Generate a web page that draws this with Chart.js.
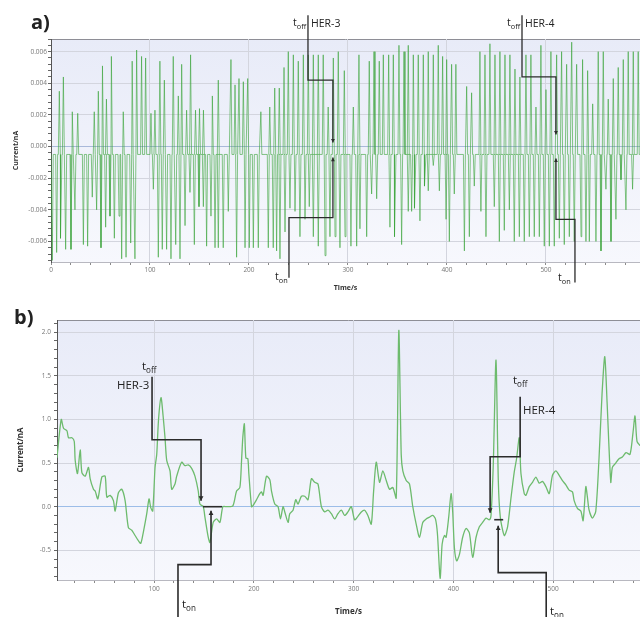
<!DOCTYPE html>
<html>
<head>
<meta charset="utf-8">
<script src="https://cdn.jsdelivr.net/npm/chart.js@4.4.0/dist/chart.umd.min.js"></script>
<style>
  body { margin: 0; background: #fff; }
  #wrap { position: relative; width: 640px; height: 617px; overflow: hidden; font-family: 'Open Sans', sans-serif; }
  canvas { position: absolute; left: 0; }
  .lbl { position: absolute; color: #222; line-height: 16px; white-space: nowrap; }
  .lbl sub { font-size: 0.7em; vertical-align: -3px; line-height: 0; }
  .la { font-size: 10.5px; }
  .lb { font-size: 11.5px; }
  .panel { position: absolute; font-weight: bold; font-size: 20px; color: #222; line-height: 22px; }
</style>
</head>
<body>
<div id="wrap">
  <canvas id="chartA" width="640" height="300" style="top:0"></canvas>
  <canvas id="chartB" width="640" height="317" style="top:300px"></canvas>

  <div class="panel" style="left:31px;top:11px">a)</div>
  <div class="panel" style="left:14px;top:306px">b)</div>

  <div class="lbl la" style="left:293px;top:14px">t<sub>off</sub></div>
  <div class="lbl la" style="left:311px;top:15px">HER-3</div>
  <div class="lbl la" style="left:507px;top:14px">t<sub>off</sub></div>
  <div class="lbl la" style="left:525px;top:15px">HER-4</div>
  <div class="lbl la" style="left:275px;top:268px">t<sub>on</sub></div>
  <div class="lbl la" style="left:558px;top:269px">t<sub>on</sub></div>

  <div class="lbl lb" style="left:142px;top:358px">t<sub>off</sub></div>
  <div class="lbl lb" style="left:117px;top:377px">HER-3</div>
  <div class="lbl lb" style="left:182px;top:596px">t<sub>on</sub></div>
  <div class="lbl lb" style="left:513px;top:372px">t<sub>off</sub></div>
  <div class="lbl lb" style="left:523px;top:402px">HER-4</div>
  <div class="lbl lb" style="left:550px;top:603px">t<sub>on</sub></div>
</div>

<script>
// ---- panel a : current spikes (time in s, current in nA) ----
const aUpTimes = [8.4, 12.5, 21.5, 27, 43.7, 47.8, 52, 56, 61, 73, 82, 86.5, 91.5, 95.6, 101, 105, 110, 114.5,
  123.5, 128.6, 132, 137, 141, 146, 150, 154, 163, 169, 181.8, 185.9, 189.9, 194.3, 198.7, 212, 221, 226,
  230.6, 235.4, 239.7, 244.8, 249.8, 254.9, 259.9, 265, 270, 275, 280, 285.2, 290.2, 296.3, 305.4, 311.1,
  321.5, 326.3, 331.6, 335.7, 341.1, 345.8, 351.5, 356.6, 360.9, 366, 371, 376.1, 381.1, 386.2, 391.2,
  395.6, 399.7, 404.7, 409, 419.9, 424.9, 433.3, 438.4, 443.4, 448.5, 453.5, 458.6, 463.6, 468.7, 473.7,
  479.8, 484.8, 489.9, 494.9, 500, 505, 510.8, 515.8, 520.9, 526, 531, 537, 542.1, 547.2, 552.8, 557.9,
  562.9, 568, 573, 578.1, 583.1, 588.2, 593.2];
const aUpValues = [0.0035, 0.0044, 0.0022, 0.0021, 0.0022, 0.0035, 0.0051, 0.003, 0.0057, 0.0022, 0.0054, 0.0061,
  0.0057, 0.0056, 0.0021, 0.0023, 0.0054, 0.0042, 0.0057, 0.0032, 0.0052, 0.0023, 0.0058, 0.0023, 0.0024,
  0.0023, 0.0032, 0.0042, 0.0055, 0.0039, 0.0043, 0.0041, 0.0043, 0.0022, 0.0025, 0.0037, 0.0037, 0.005,
  0.006, 0.0058, 0.0054, 0.0058, 0.0058, 0.0058, 0.0058, 0.0058, 0.0025, 0.0056, 0.006, 0.0048, 0.0025,
  0.0058, 0.0054, 0.006, 0.0054, 0.0058, 0.0058, 0.0058, 0.0064, 0.006, 0.0064, 0.0058, 0.0058, 0.0058,
  0.006, 0.0058, 0.0064, 0.0057, 0.0055, 0.0052, 0.0052, 0.0038, 0.0034, 0.006, 0.0058, 0.0065, 0.0058,
  0.006, 0.0058, 0.0058, 0.0049, 0.0044, 0.0058, 0.0058, 0.0025, 0.0064, 0.0036, 0.006, 0.0058, 0.006,
  0.0052, 0.0066, 0.0052, 0.0055, 0.0048, 0.0027, 0.006, 0.006, 0.003, 0.0043, 0.005, 0.0055, 0.006,
  0.006, 0.006];
const aDownTimes = [1.3, 5.7, 10.1, 14.8, 20.2, 24.2, 32.7, 37, 41.7, 46.1, 50.5, 55.2, 59.6, 64, 68.7, 71.4,
  75.8, 80.5, 84.8, 103.4, 108.4, 112.4, 116.8, 121.2, 126, 130.3, 135.4, 140.4, 144.8, 149.5, 153.9, 157.2,
  161.6, 165.7, 169, 174, 179.1, 187.5, 196, 200.3, 204.4, 209.4, 219.5, 224.5, 227.9, 231.3, 236.4, 241.4,
  246.5, 251.5, 256.6, 260.9, 265, 270, 276.8, 281.8, 286.9, 291.9, 297, 303, 308.8, 312.1, 318.9, 323.9,
  329, 342.4, 347.5, 354.2, 360.9, 364.3, 367.7, 372.7, 377.8, 381.1, 386.2, 392.3, 399.1, 402.4, 407.4,
  417.6, 422.6, 427.6, 434.3, 439.4, 447.8, 452.9, 457.9, 463, 468, 473.1, 478.1, 483.2, 488.2, 493.3,
  498.3, 503.4, 508.4, 513.5, 518.5, 523.6, 528.6, 535.4, 540.4, 543.8, 550.5, 555.6, 560.6, 565.7, 570.7,
  575.8, 580.8, 587.5];
const aDownValues = [-0.0072, -0.0067, -0.0058, -0.0065, -0.0065, -0.004, -0.0062, -0.0063, -0.0032, -0.004,
  -0.0064, -0.0051, -0.0044, -0.0058, -0.0044, -0.0071, -0.007, -0.0061, -0.0071, -0.0027, -0.007, -0.0065,
  -0.0065, -0.0071, -0.0062, -0.0071, -0.005, -0.0029, -0.0062, -0.0038, -0.0038, -0.0063, -0.0044, -0.0064,
  -0.0064, -0.0064, -0.0041, -0.007, -0.0064, -0.0064, -0.0064, -0.0064, -0.0064, -0.0064, -0.0066, -0.0071,
  -0.0054, -0.0039, -0.0041, -0.0057, -0.0046, -0.0038, -0.0057, -0.0063, -0.0069, -0.0057, -0.0057, -0.0064,
  -0.0057, -0.0063, -0.0063, -0.0052, -0.0057, -0.003, -0.0033, -0.0051, -0.0057, -0.0062, -0.0041, -0.0041,
  -0.0039, -0.0047, -0.0025, -0.0028, -0.0012, -0.0028, -0.0046, -0.006, -0.003, -0.0066, -0.0057, -0.0025,
  -0.0041, -0.0057, -0.0038, -0.006, -0.0053, -0.004, -0.006, -0.0057, -0.006, -0.0057, -0.0057, -0.0057,
  -0.0063, -0.0063, -0.0063, -0.0058, -0.0062, -0.0057, -0.006, -0.0057, -0.006, -0.006, -0.006, -0.0066,
  -0.0027, -0.006, -0.0046, -0.0021, -0.004, -0.0027];
const aBaseline = -0.0005;

// ---- panel b : current trace ----
const bTimes = [2.7, 7, 9.3, 12.7, 14.3, 17.7, 20, 21, 23.3, 26, 27.7, 31, 34.3, 36, 39.3, 41, 43.7, 47.7, 51,
  52.7, 56, 59.3, 61, 64.3, 67.7, 71, 74.3, 77.7, 81, 84.3, 86.7, 89.3, 92.7, 95, 96.7, 98.7, 101, 102.7,
  104.5, 107, 109, 111, 112.7, 116, 117.7, 121, 122.7, 127.7, 131, 134.3, 137.7, 141, 144.3, 146, 149.3,
  151, 154.3, 156, 159.3, 162.7, 166, 169, 173, 179, 182.7, 186, 187.7, 189, 190.5, 192, 194, 195, 197.7,
  199, 202.7, 206, 207.7, 209.3, 212.7, 216, 217.7, 221, 224.3, 226.7, 229.3, 231, 234.3, 236, 239.3, 242,
  244.3, 247.7, 251, 254.3, 257.7, 261, 264.3, 267.7, 271, 274.3, 277.7, 281, 284.3, 287.7, 291, 294.3,
  297.7, 301, 304.3, 307.7, 311, 314.3, 317.7, 320, 322.7, 326, 329.3, 332.7, 336, 339.3, 342.7, 345.3,
  347.7, 349.3, 352.7, 356, 359.3, 362.7, 366, 369.3, 372.7, 376, 379.3, 382, 384, 386.7, 388.7, 391,
  392.7, 395.3, 397.7, 399.3, 401, 403.3, 406, 409.3, 412.7, 416, 419.3, 422.7, 426, 429.3, 432.7, 436,
  437.7, 440, 442.7, 445, 447, 451, 454.3, 457.7, 461, 463.3, 466, 467.7, 471, 472.7, 476, 479.3, 482.7,
  486, 489.3, 492.7, 496, 499.3, 502.7, 506, 509.3, 512.7, 516, 519.3, 521, 524.3, 527.7, 530, 532.7,
  534.3, 536, 539.3, 542.7, 546, 549, 551.7, 554, 557.7, 559.3, 562.7, 566, 569.3, 573, 577, 580, 582,
  584, 587];
const bValues = [0.56, 1.0, 0.9, 0.87, 0.79, 0.79, 0.75, 0.53, 0.38, 0.65, 0.39, 0.35, 0.45, 0.32, 0.2, 0.18,
  0.09, 0.34, 0.35, 0.11, 0.13, 0.07, -0.05, 0.16, 0.2, 0.07, -0.24, -0.27, -0.33, -0.39, -0.42, -0.29,
  -0.08, 0.09, -0.01, -0.05, 0.45, 0.6, 1.0, 1.25, 1.05, 0.79, 0.53, 0.41, 0.2, 0.26, 0.35, 0.51, 0.47,
  0.48, 0.44, 0.35, 0.18, 0.03, 0.0, -0.12, -0.35, -0.41, -0.18, -0.14, -0.18, 0.0, 0.0, 0.01, 0.18, 0.22,
  0.53, 0.8, 0.95, 0.56, 0.55, 0.38, 0.0, 0.01, 0.08, 0.15, 0.17, 0.13, 0.35, 0.31, 0.18, 0.03, 0.0, -0.14,
  0.0, -0.06, -0.18, -0.08, -0.04, 0.08, 0.03, 0.12, 0.12, 0.08, 0.32, 0.28, 0.26, 0.0, -0.06, -0.04,
  -0.08, -0.14, -0.08, -0.04, -0.1, -0.06, 0.0, -0.15, -0.11, -0.06, -0.04, -0.1, -0.2, 0.17, 0.51, 0.28,
  0.41, 0.3, 0.2, 0.22, 0.1, 2.02, 0.6, 0.41, 0.3, 0.26, 0.0, -0.2, -0.35, -0.18, -0.14, -0.12, -0.1,
  -0.14, -0.31, -0.82, -0.43, -0.33, -0.35, -0.12, 0.15, -0.06, -0.47, -0.62, -0.55, -0.35, -0.25, -0.3,
  -0.58, -0.35, -0.23, -0.18, -0.13, -0.15, -0.1, 0.5, 1.68, 0.3, -0.12, -0.33, -0.23, 0.1, 0.4, 0.55,
  0.79, 0.38, 0.15, 0.13, 0.23, 0.28, 0.34, 0.27, 0.29, 0.23, 0.15, 0.36, 0.41, 0.36, 0.3, 0.25, 0.19,
  0.17, 0.07, -0.02, -0.05, -0.16, 0.23, 0.11, -0.04, -0.13, -0.05, 0.57, 1.3, 1.72, 1.2, 0.28, 0.45, 0.5,
  0.55, 0.57, 0.62, 0.6, 0.85, 1.04, 0.75, 0.7];

// ---- switching marks (time, current) ----
const aHer3Off = [[259.6, 0.0083], [259.6, 0.0042], [284.8, 0.0042], [284.8, 0.00025]];
const aHer3On = [[240.4, -0.0083], [240.4, -0.0045], [284.8, -0.0045], [284.8, -0.0007]];
const aHer4Off = [[475.8, 0.0083], [475.8, 0.0044], [510.1, 0.0044], [510.1, 0.00076]];
const aHer4On = [[529.3, -0.0086], [529.3, -0.0046], [510.1, -0.0046], [510.1, -0.00076]];
const bHer3Off = [[98, 1.49], [98, 0.767], [147.1, 0.767], [147.1, 0.069]];
const bHer3Mid = [[149.1, 0], [168.2, 0]];
const bHer3On = [[124, -1.3], [124, -0.664], [157.1, -0.664], [157.1, -0.046]];
const bHer4Off = [[466.9, 1.26], [466.9, 0.572], [436.8, 0.572], [436.8, -0.069]];
const bHer4Mid = [[440.9, -0.149], [449.9, -0.149]];
const bHer4On = [[493, -1.3], [493, -0.755], [444.9, -0.755], [444.9, -0.217]];

// spikes -> line points
function spikeTrace(upT, upV, downT, downV, base) {
  const spikes = upT.map((t, i) => [t, upV[i]]).concat(downT.map((t, i) => [t, downV[i]]));
  spikes.sort((p, q) => p[0] - q[0]);
  const pts = [{x: 0, y: base}];
  spikes.forEach(([t, v]) => {
    pts.push({x: t - 1, y: base}, {x: t, y: v}, {x: t + 1, y: base});
  });
  pts.push({x: 600, y: base});
  return pts;
}

const plotBg = {
  id: 'plotBg',
  beforeDraw(chart) {
    const {ctx, chartArea: {left, top, right, bottom}} = chart;
    const g = ctx.createLinearGradient(0, top, 0, bottom);
    g.addColorStop(0, '#e8ebf8');
    g.addColorStop(1, '#f7f8fd');
    ctx.save();
    ctx.fillStyle = g;
    ctx.fillRect(left, top, right - left, bottom - top);
    ctx.strokeStyle = '#8e8e96';
    ctx.lineWidth = 1;
    ctx.beginPath();
    ctx.moveTo(left, top + 0.5);
    ctx.lineTo(right, top + 0.5);
    ctx.stroke();
    ctx.restore();
  }
};

// step lines with arrow heads, in data units
const stepLines = {
  id: 'stepLines',
  afterDatasetsDraw(chart, args, opts) {
    const {ctx, scales: {x, y}} = chart;
    ctx.save();
    ctx.strokeStyle = opts.color;
    ctx.fillStyle = opts.color;
    ctx.lineWidth = opts.width;
    opts.paths.forEach(p => {
      const pts = p.pts.map(([t, v]) => [x.getPixelForValue(t), y.getPixelForValue(v)]);
      ctx.beginPath();
      pts.forEach(([px, py], i) => i ? ctx.lineTo(px, py) : ctx.moveTo(px, py));
      ctx.stroke();
      if (p.arrow) {
        const [x1, y1] = pts[pts.length - 2];
        const [x2, y2] = pts[pts.length - 1];
        const a = Math.atan2(y2 - y1, x2 - x1), s = opts.head;
        ctx.beginPath();
        ctx.moveTo(x2, y2);
        ctx.lineTo(x2 - s * Math.cos(a - 0.5), y2 - s * Math.sin(a - 0.5));
        ctx.lineTo(x2 - s * Math.cos(a + 0.5), y2 - s * Math.sin(a + 0.5));
        ctx.closePath();
        ctx.fill();
      }
    });
    ctx.restore();
  }
};

const isMult = (v, m) => Math.abs(v / m - Math.round(v / m)) < 1e-6;
const tickFont = {family: 'Open Sans', size: 6.5};

// ----- chart a -----
new Chart(document.getElementById('chartA'), {
  type: 'line',
  data: {
    datasets: [{
      data: spikeTrace(aUpTimes, aUpValues, aDownTimes, aDownValues, aBaseline),
      borderColor: 'rgba(60,165,60,0.62)',
      borderWidth: 1,
      pointRadius: 0,
      tension: 0
    }]
  },
  options: {
    responsive: false,
    animation: false,
    devicePixelRatio: 1,
    layout: {padding: {top: 39, left: 0, right: 0, bottom: 0}},
    plugins: {
      legend: {display: false},
      tooltip: {enabled: false},
      stepLines: {
        color: '#2b2b2b', width: 1.3, head: 4,
        paths: [
          {pts: aHer3Off, arrow: true}, {pts: aHer3On, arrow: true},
          {pts: aHer4Off, arrow: true}, {pts: aHer4On, arrow: true}
        ]
      }
    },
    scales: {
      x: {
        type: 'linear', min: 0, max: 595,
        afterFit: s => { s.height = 38; },
        ticks: {
          stepSize: 20, autoSkip: false, maxRotation: 0, includeBounds: false,
          padding: 1, color: '#777', font: tickFont,
          callback: v => isMult(v, 100) ? v : ''
        },
        grid: {
          color: c => c.tick && isMult(c.tick.value, 100) ? '#d3d5de' : 'rgba(0,0,0,0)',
          tickColor: '#8a8a8a', tickLength: 3
        },
        border: {color: '#b8b8c0'},
        title: {display: true, text: 'Time/s', color: '#333',
          font: {family: 'Open Sans', size: 7, weight: 'bold'}, padding: {top: 0, bottom: 8}}
      },
      y: {
        min: -0.0073, max: 0.0068,
        afterFit: s => { s.width = 51; },
        ticks: {
          stepSize: 0.0004, autoSkip: false, includeBounds: false,
          padding: 1, color: '#777', font: tickFont,
          callback: v => isMult(v, 0.002) ? v.toFixed(3) : ''
        },
        grid: {
          color: c => {
            if (!c.tick) return 'rgba(0,0,0,0)';
            if (Math.abs(c.tick.value) < 1e-9) return '#a9b9da';
            return isMult(c.tick.value, 0.002) ? '#d3d5de' : 'rgba(0,0,0,0)';
          },
          tickColor: '#666', tickLength: 3
        },
        border: {color: '#555'},
        title: {display: true, text: 'Current/nA', color: '#333',
          font: {family: 'Open Sans', size: 7, weight: 'bold'}, padding: {top: 12, bottom: 0}}
      }
    }
  },
  plugins: [plotBg, stepLines]
});

// ----- chart b -----
new Chart(document.getElementById('chartB'), {
  type: 'line',
  data: {
    datasets: [{
      data: bTimes.map((t, i) => ({x: t, y: bValues[i]})),
      borderColor: '#6dbb6d',
      borderWidth: 1.3,
      pointRadius: 0,
      tension: 0.25
    }]
  },
  options: {
    responsive: false,
    animation: false,
    devicePixelRatio: 1,
    layout: {padding: {top: 20, left: 0, right: 0, bottom: 0}},
    plugins: {
      legend: {display: false},
      tooltip: {enabled: false},
      stepLines: {
        color: '#2b2b2b', width: 1.6, head: 5,
        paths: [
          {pts: bHer3Off, arrow: true}, {pts: bHer3Mid, arrow: false}, {pts: bHer3On, arrow: true},
          {pts: bHer4Off, arrow: true}, {pts: bHer4Mid, arrow: false}, {pts: bHer4On, arrow: true}
        ]
      }
    },
    scales: {
      x: {
        type: 'linear', min: 2.75, max: 587,
        afterFit: s => { s.height = 37; },
        ticks: {
          stepSize: 20, autoSkip: false, maxRotation: 0, includeBounds: false,
          padding: 2, color: '#777', font: tickFont,
          callback: v => isMult(v, 100) ? v : ''
        },
        grid: {
          color: c => c.tick && isMult(c.tick.value, 100) ? '#d3d5de' : 'rgba(0,0,0,0)',
          tickColor: '#8a8a8a', tickLength: 3
        },
        border: {color: '#b8b8c0'},
        title: {display: true, text: 'Time/s', color: '#333',
          font: {family: 'Open Sans', size: 8, weight: 'bold'}, padding: {top: 0, bottom: 0}}
      },
      y: {
        min: -0.84, max: 2.14,
        afterFit: s => { s.width = 57; },
        ticks: {
          stepSize: 0.1, autoSkip: false, includeBounds: false,
          padding: 3, color: '#777', font: tickFont,
          callback: v => isMult(v, 0.5) ? v.toFixed(1) : ''
        },
        grid: {
          color: c => {
            if (!c.tick) return 'rgba(0,0,0,0)';
            if (Math.abs(c.tick.value) < 1e-9) return '#9cbde8';
            return isMult(c.tick.value, 0.5) ? '#d3d5de' : 'rgba(0,0,0,0)';
          },
          tickColor: '#666', tickLength: 3
        },
        border: {color: '#555'},
        title: {display: true, text: 'Current/nA', color: '#333',
          font: {family: 'Open Sans', size: 8, weight: 'bold'}, padding: {top: 16, bottom: 0}}
      }
    }
  },
  plugins: [plotBg, stepLines]
});
</script>
</body>
</html>
